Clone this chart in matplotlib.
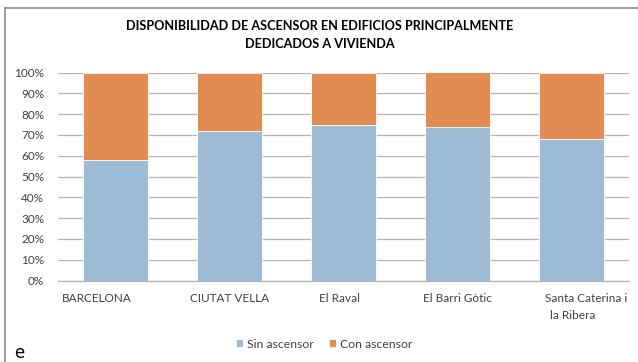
import matplotlib
matplotlib.use("Agg")
import matplotlib.pyplot as plt
from matplotlib.lines import Line2D
from matplotlib.ticker import FuncFormatter, MultipleLocator
from matplotlib.transforms import ScaledTranslation

categories = ["BARCELONA", "CIUTAT VELLA", "El Raval", "El Barri Gòtic", "Santa Caterina i", ]
category_second_line = ["", "", "", "", "la Ribera"]
sin_ascensor = [58, 72, 75, 74, 68]
con_ascensor = [100 - v for v in sin_ascensor]
series_labels = ["Sin ascensor", "Con ascensor"]
title = "DISPONIBILIDAD DE ASCENSOR EN EDIFICIOS PRINCIPALMENTE\nDEDICADOS A VIVIENDA"

blue = "#9dbbd5"
orange = "#e28c53"
text_color = "#404040"

plt.rcParams["font.family"] = ["Lato", "DejaVu Sans"]

W, H = 638, 362
fig = plt.figure(figsize=(W / 100, H / 100), dpi=100)
fig.patch.set_facecolor("white")

# plot area in pixel coordinates
left, right, top, bottom = 58, 629, 72.5, 280.5
ax = fig.add_axes([left / W, 1 - bottom / H, (right - left) / W, (bottom - top) / H])

x = list(range(len(categories)))
ax.bar(x, sin_ascensor, width=0.57, color=blue, edgecolor="white", linewidth=0.6, zorder=3, label=series_labels[0])
ax.bar(x, con_ascensor, width=0.57, bottom=sin_ascensor, color=orange, edgecolor="white", linewidth=0.6, zorder=3, label=series_labels[1])

ax.set_xlim(-0.5, len(categories) - 0.5)
ax.set_ylim(0, 100)
ax.yaxis.set_major_locator(MultipleLocator(10))
ax.yaxis.set_major_formatter(FuncFormatter(lambda v, p: f"{int(v)}%"))
ax.grid(axis="y", color="#b3b3b3", linewidth=0.9, zorder=0)
for s in ["top", "right", "left"]:
    ax.spines[s].set_visible(False)
ax.spines["bottom"].set_color("#b3b3b3")
ax.spines["bottom"].set_linewidth(0.9)
ax.tick_params(axis="both", length=0, labelsize=8.5, colors=text_color)
ax.tick_params(axis="y", pad=10)
ax.tick_params(axis="x", pad=9)
ax.set_xticks(x)
ax.set_xticklabels(categories)

# category label nudges (pixels), as wrapped by the spreadsheet layout
nudges = [-18, 0, -4, 0, 14]
for lbl, dx in zip(ax.get_xticklabels(), nudges):
    lbl.set_transform(lbl.get_transform() + ScaledTranslation(dx / 100, 0, fig.dpi_scale_trans))

for xi, extra in zip(x, category_second_line):
    if extra:
        ax.annotate(extra, xy=(xi, 0), xycoords=("data", "axes fraction"), xytext=(1, -35),
                    textcoords="offset pixels", ha="center", va="center", fontsize=8.5, color=text_color)

fig.text(320 / W, 1 - 35 / H, title, ha="center", va="center", fontsize=9.1, fontweight="bold",
         color="black", linespacing=1.55)

handles, labels = ax.get_legend_handles_labels()
fig.legend(handles, labels, loc="center", bbox_to_anchor=(324 / W, 1 - 344 / H), ncol=2, frameon=False,
           fontsize=8.8, handlelength=0.6, handleheight=0.6, handletextpad=0.3, columnspacing=1.2,
           labelcolor=text_color)

# chart frame
fig.add_artist(Line2D([5 / W, 5 / W], [0, 1 - 8 / H], transform=fig.transFigure, color="#8c8c8c", linewidth=1.2))
fig.add_artist(Line2D([5 / W, 1], [1 - 8 / H, 1 - 8 / H], transform=fig.transFigure, color="#8c8c8c", linewidth=1.2))

fig.text(14 / W, 1 - 353 / H, "e", ha="left", va="center", fontsize=12, color="black", family=["DejaVu Sans"])

fig.savefig("out.png", dpi=100, facecolor="white")
